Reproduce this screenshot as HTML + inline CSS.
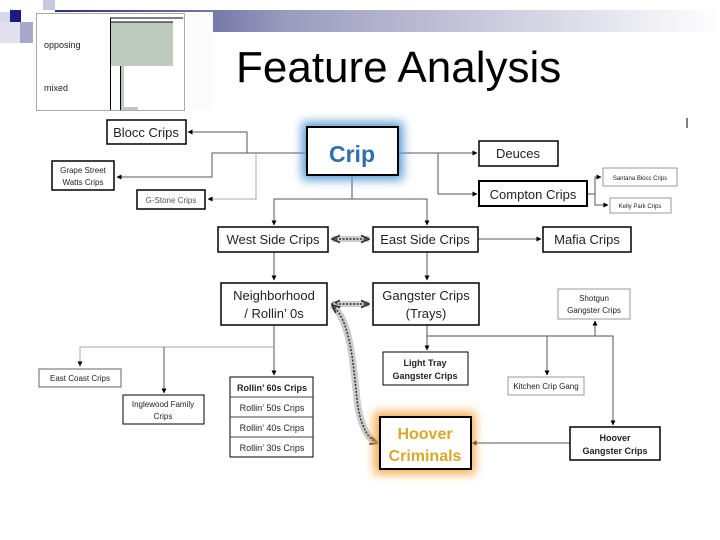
<!DOCTYPE html>
<html><head><meta charset="utf-8"><style>
html,body{margin:0;padding:0;background:#fff;}
body{width:720px;height:540px;overflow:hidden;position:relative;font-family:"Liberation Sans",sans-serif;}
</style></head><body>
<svg width="720" height="540" viewBox="0 0 720 540" xmlns="http://www.w3.org/2000/svg" style="position:absolute;left:0;top:0">
<defs>
<linearGradient id="bar" x1="0" x2="1" y1="0" y2="0">
<stop offset="0" stop-color="#2a2f7a"/><stop offset="0.35" stop-color="#9a9cc0"/><stop offset="1" stop-color="#ffffff"/>
</linearGradient>
<filter id="bglow" x="-30%" y="-40%" width="160%" height="180%"><feGaussianBlur stdDeviation="5"/></filter>
<marker id="a" viewBox="0 0 10 10" refX="9" refY="5" markerWidth="5" markerHeight="5" orient="auto"><path d="M0,0L10,5L0,10z" fill="#000"/></marker>
<marker id="b" viewBox="0 0 10 10" refX="9" refY="5" markerWidth="6" markerHeight="6" orient="auto"><path d="M0,1L9,5L0,9" fill="none" stroke="#333" stroke-width="2"/></marker>
<marker id="bs" viewBox="0 0 10 10" refX="1" refY="5" markerWidth="6" markerHeight="6" orient="auto"><path d="M10,1L1,5L10,9" fill="none" stroke="#333" stroke-width="2"/></marker>
</defs>
<rect x="55" y="10" width="665" height="22" fill="url(#bar)"/>
<rect x="43" y="0" width="12" height="10" fill="#c8c8e0"/>
<rect x="0" y="12" width="10" height="10" fill="#d8d8ea"/>
<rect x="10" y="10" width="11" height="12" fill="#1a1a80"/>
<rect x="0" y="22" width="20" height="21" fill="#e0e0ee"/>
<rect x="20" y="22" width="13" height="21" fill="#a8a8cc"/>
<rect x="33" y="12" width="180" height="98" fill="#fbfbfb"/>
<rect x="36.5" y="13.5" width="148" height="97" fill="#fff" stroke="#aaa"/>
<rect x="110" y="22" width="63" height="44" fill="#bccbbd"/>
<rect x="120" y="66" width="4" height="44" fill="#bccbbd"/>
<rect x="120" y="107" width="18" height="3" fill="#bccbbd"/>
<line x1="110" y1="18" x2="183" y2="18" stroke="#000"/>
<line x1="110" y1="22" x2="173" y2="22" stroke="#000"/>
<line x1="110.5" y1="18" x2="110.5" y2="110" stroke="#000"/>
<line x1="120.5" y1="66" x2="120.5" y2="110" stroke="#000"/>
<text x="44" y="48" font-size="9" fill="#222">opposing</text>
<text x="44" y="91" font-size="9" fill="#222">mixed</text>
<text x="236" y="82" font-size="44" fill="#000">Feature Analysis</text>
<line x1="687" y1="118" x2="687" y2="128" stroke="#000"/>

<g stroke="#555" stroke-width="1" fill="none">
<path d="M307,153H212V177H117" marker-end="url(#a)"/>
<path d="M247,153V132H188" marker-end="url(#a)"/>
<path d="M256,153V199H208" marker-end="url(#a)" stroke="#aaa"/>
<path d="M398,153H477" marker-end="url(#a)"/>
<path d="M438,153V194H477" marker-end="url(#a)"/>
<path d="M587,194H595V177H601" marker-end="url(#a)"/>
<path d="M595,194V205H608" marker-end="url(#a)"/>
<path d="M352,175V199H274V225" marker-end="url(#a)"/>
<path d="M352,199H427V225" marker-end="url(#a)"/>
<path d="M478,239H541" marker-end="url(#a)"/>
<path d="M274,252V280" marker-end="url(#a)"/>
<path d="M427,252V280" marker-end="url(#a)"/>
<path d="M274,325V375" marker-end="url(#a)"/>
<path d="M274,347H80V366" marker-end="url(#a)" stroke="#aaa"/>
<path d="M164,347V393" marker-end="url(#a)"/>
<path d="M427,325V336H613V425" marker-end="url(#a)"/>
<path d="M427,336V350" marker-end="url(#a)"/>
<path d="M547,336V375" marker-end="url(#a)"/>
<path d="M595,336V321" marker-end="url(#a)"/>
<path d="M570,443H472" marker-end="url(#a)"/>
</g>
<g fill="none">
<line x1="332" y1="239" x2="369" y2="239" stroke="#ccc" stroke-width="6"/>
<line x1="332" y1="239" x2="369" y2="239" stroke="#333" stroke-width="1.5" stroke-dasharray="2,1.5" marker-end="url(#b)" marker-start="url(#bs)"/>
<line x1="332" y1="304" x2="369" y2="304" stroke="#ccc" stroke-width="6"/>
<line x1="332" y1="304" x2="369" y2="304" stroke="#333" stroke-width="1.5" stroke-dasharray="2,1.5" marker-end="url(#b)" marker-start="url(#bs)"/>
<path d="M332,305C350,320 353,360 357,400C360,425 368,440 378,443" stroke="#ccc" stroke-width="7"/>
<path d="M332,305C350,320 353,360 357,400C360,425 368,440 378,443" stroke="#333" stroke-width="1.5" stroke-dasharray="2,1.5" marker-end="url(#b)" marker-start="url(#bs)"/>
</g>

<rect x="302" y="122" width="101" height="58" fill="#5b9bd5" filter="url(#bglow)"/>
<rect x="374" y="412" width="101" height="62" fill="#f5a947" filter="url(#bglow)"/>

<g stroke="#000" fill="#fff" stroke-width="1.5">
<rect x="107" y="120" width="79" height="24"/>
<rect x="307" y="127" width="91" height="48" stroke-width="2"/>
<rect x="479" y="141" width="79" height="25"/>
<rect x="479" y="181" width="108" height="25" stroke-width="2"/>
<rect x="52" y="161" width="62" height="29"/>
<rect x="137" y="190" width="68" height="19"/>
<rect x="218" y="227" width="110" height="25"/>
<rect x="373" y="227" width="105" height="25"/>
<rect x="543" y="227" width="88" height="25"/>
<rect x="221" y="283" width="106" height="42"/>
<rect x="373" y="283" width="106" height="42"/>
<rect x="383" y="352" width="85" height="33" stroke-width="1"/>
<rect x="380" y="417" width="91" height="52" stroke-width="2"/>
<rect x="570" y="427" width="90" height="33"/>
<rect x="230" y="377" width="83" height="80" stroke-width="1"/>
<rect x="123" y="395" width="81" height="29" stroke-width="1"/>
</g>
<g stroke="#999" fill="#fff" stroke-width="1">
<rect x="603" y="168" width="74" height="18"/>
<rect x="610" y="198" width="61" height="15"/>
<rect x="558" y="289" width="72" height="30"/>
<rect x="508" y="377" width="76" height="18"/>
<rect x="39" y="369" width="82" height="18" stroke="#666"/>
</g>
<g stroke="#444" stroke-width="1">
<line x1="230" y1="397" x2="313" y2="397"/><line x1="230" y1="417" x2="313" y2="417"/><line x1="230" y1="437" x2="313" y2="437"/>
</g>

<g font-family="'Liberation Sans',sans-serif" text-anchor="middle" fill="#222">
<text x="146" y="137" font-size="13">Blocc Crips</text>
<text x="352" y="162" font-size="23" font-weight="bold" fill="#2e6fb0">Crip</text>
<text x="518" y="158" font-size="13">Deuces</text>
<text x="533" y="199" font-size="13">Compton Crips</text>
<text x="640" y="180" font-size="6">Santana Blocc Crips</text>
<text x="640" y="208" font-size="6">Kelly Park Crips</text>
<text x="83" y="173" font-size="8">Grape Street</text>
<text x="83" y="185" font-size="8">Watts Crips</text>
<text x="171" y="203" font-size="8" fill="#555">G-Stone Crips</text>
<text x="273" y="244" font-size="13">West Side Crips</text>
<text x="425" y="244" font-size="13">East Side Crips</text>
<text x="587" y="244" font-size="13">Mafia Crips</text>
<text x="274" y="300" font-size="13">Neighborhood</text>
<text x="274" y="318" font-size="13">/ Rollin’ 0s</text>
<text x="426" y="300" font-size="13">Gangster Crips</text>
<text x="426" y="318" font-size="13">(Trays)</text>
<text x="594" y="301" font-size="8">Shotgun</text>
<text x="594" y="313" font-size="8">Gangster Crips</text>
<text x="425" y="366" font-size="9" font-weight="bold">Light Tray</text>
<text x="425" y="379" font-size="9" font-weight="bold">Gangster Crips</text>
<text x="546" y="389" font-size="8">Kitchen Crip Gang</text>
<text x="80" y="381" font-size="8">East Coast Crips</text>
<text x="163" y="407" font-size="8">Inglewood Family</text>
<text x="163" y="419" font-size="8">Crips</text>
<text x="272" y="391" font-size="9" font-weight="bold">Rollin’ 60s Crips</text>
<text x="272" y="411" font-size="9">Rollin’ 50s Crips</text>
<text x="272" y="431" font-size="9">Rollin’ 40s Crips</text>
<text x="272" y="451" font-size="9">Rollin’ 30s Crips</text>
<text x="425" y="439" font-size="16" font-weight="bold" fill="#d9a82a">Hoover</text>
<text x="425" y="461" font-size="16" font-weight="bold" fill="#d9a82a">Criminals</text>
<text x="615" y="441" font-size="9" font-weight="bold">Hoover</text>
<text x="615" y="454" font-size="9" font-weight="bold">Gangster Crips</text>
</g>
</svg>
</body></html>
